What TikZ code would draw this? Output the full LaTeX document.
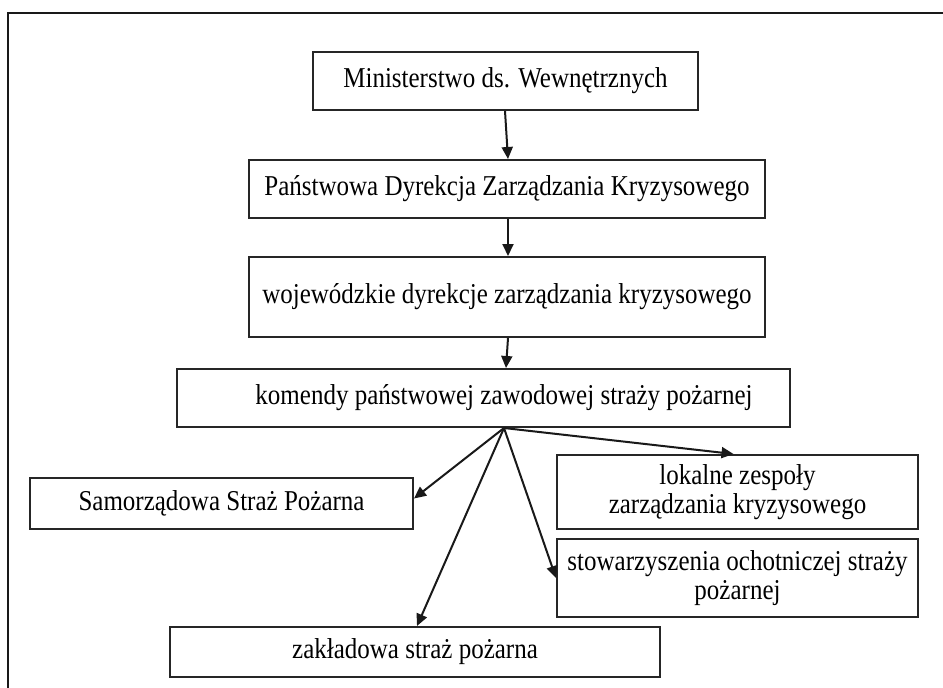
\documentclass[tikz,border=0pt]{standalone}
\usepackage{fontspec}
\setmainfont{Liberation Serif}
\usetikzlibrary{arrows.meta}
\newcommand{\tallt}[1]{\scalebox{1}[1.15]{#1}}
\begin{document}
\begin{tikzpicture}[x=1pt,y=-1pt,
  box/.style={draw=black!85, line width=2pt, inner sep=0pt,
    font=\fontsize{25}{29.5}\selectfont, align=center},
  lbl/.style={inner sep=0pt, font=\fontsize{25}{29.5}\selectfont},
  arr/.style={draw=black!90, line width=2pt, -{Triangle[length=12pt,width=11pt]}}]
\useasboundingbox (0,0) rectangle (943,688);
\coordinate (fbl) at (8,690);
\coordinate (ftl) at (8,13);
\coordinate (ftr) at (945,13);
\draw[line width=2.2pt, draw=black!90] (fbl) -- (ftl) -- (ftr);

\node[box, minimum width=385, minimum height=58] (min) at (505.5,81) {\tallt{Ministerstwo ds. Wewnętrznych}};
\node[box, minimum width=516, minimum height=58] (pan) at (507,189) {\tallt{Państwowa Dyrekcja Zarządzania Kryzysowego}};
\node[box, minimum width=516, minimum height=80] (woj) at (507,297) {\tallt{wojewódzkie dyrekcje zarządzania kryzysowego}};
\node[box, minimum width=613, minimum height=58] (kom) at (483.5,398) {};
\node[lbl] (komt) at (504,398) {\tallt{komendy państwowej zawodowej straży pożarnej}};
\node[box, minimum width=383, minimum height=51] (sam) at (221.5,503.5) {\tallt{Samorządowa Straż Pożarna}};
\node[box, minimum width=490, minimum height=50] (zak) at (415,652) {\tallt{zakładowa straż pożarna}};
\node[box, minimum width=361, minimum height=74] (lok) at (737.5,492) {\tallt{lokalne zespoły}\\\tallt{zarządzania kryzysowego}};
\node[box, minimum width=361, minimum height=78] (sto) at (737.5,578) {\tallt{stowarzyszenia ochotniczej straży}\\\tallt{pożarnej}};

\draw[arr] ([xshift=-0.5]min.south) -- ([xshift=1]pan.north);
\draw[arr] ([xshift=1]pan.south) -- ([xshift=1]woj.north);
\draw[arr] ([xshift=1]woj.south) -- ([xshift=22.5]kom.north);
\coordinate (fan) at ([xshift=20.5]kom.south);
\draw[arr] (fan) -- ([yshift=5]sam.east);
\draw[arr] (fan) -- ([xshift=2]zak.north);
\draw[arr] (fan) -- (sto.west);
\draw[arr] (fan) -- ([xshift=-4]lok.north);
\end{tikzpicture}
\end{document}
